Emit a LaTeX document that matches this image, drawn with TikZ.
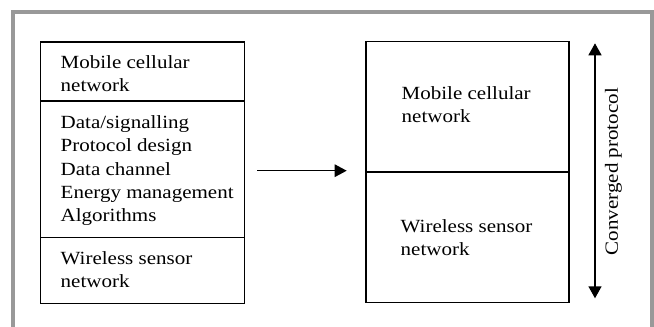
\documentclass[tikz,border=0pt]{standalone}
\usepackage{fontspec}
\setmainfont{Liberation Serif}[FakeStretch=1.13]
\usetikzlibrary{arrows.meta}
\begin{document}
\begin{tikzpicture}[x=1pt,y=-1pt,
  sect/.style={draw,line width=1.5pt,inner sep=0pt,anchor=north west},
  lbl/.style={inner sep=0pt,anchor=base west,align=left,font=\fontsize{18.6}{23.3}\selectfont},
  arr/.style={line width=1.4pt,-{Triangle[length=12pt,width=12.5pt]}},
  darr/.style={line width=1.4pt,{Triangle[length=12pt,width=13pt]}-{Triangle[length=12pt,width=13pt]}}]
\useasboundingbox (0,0) rectangle (654,327);
% outer frame
\draw[line width=4pt,color=black!40] (13,340) -- (13,12) -- (651.5,12) -- (651.5,340);
% left stack
\node[sect,minimum width=204pt,minimum height=59pt] (l1) at (39.6,41) {};
\node[sect,minimum width=204pt,minimum height=136.7pt] (l2) at (39.6,100) {};
\node[sect,minimum width=204pt,minimum height=66pt] (l3) at (39.6,236.7) {};
% labels (anchor is the baseline of the last line)
\node[lbl] (t1) at (60.5,91.7) {Mobile cellular\\network};
\node[lbl] (t2) at (60.5,221.8) {Data/signalling\\Protocol design\\Data channel\\Energy management\\Algorithms};
\node[lbl] (t3) at (60.5,287.8) {Wireless sensor\\network};
% right stack
\node[sect,minimum width=203pt,minimum height=130.3pt] (r1) at (365,40.7) {};
\node[sect,minimum width=203pt,minimum height=130.5pt] (r2) at (365,171) {};
\node[lbl] (t4) at (401.5,122.8) {Mobile cellular\\network};
\node[lbl] (t5) at (400.5,255.3) {Wireless sensor\\network};
% transition arrow
\coordinate (a1) at (257.3,170.7);
\coordinate (a2) at (346.7,170.7);
\draw[arr] (a1) -- (a2);
% converged protocol arrow
\coordinate (b1) at (595,43.3);
\coordinate (b2) at (595,298.3);
\draw[darr] (b1) -- (b2);
\node[inner sep=0pt,rotate=90,font=\fontsize{18.6}{23.3}\selectfont] (cp) at (613.5,171.7) {Converged protocol};
\end{tikzpicture}
\end{document}
